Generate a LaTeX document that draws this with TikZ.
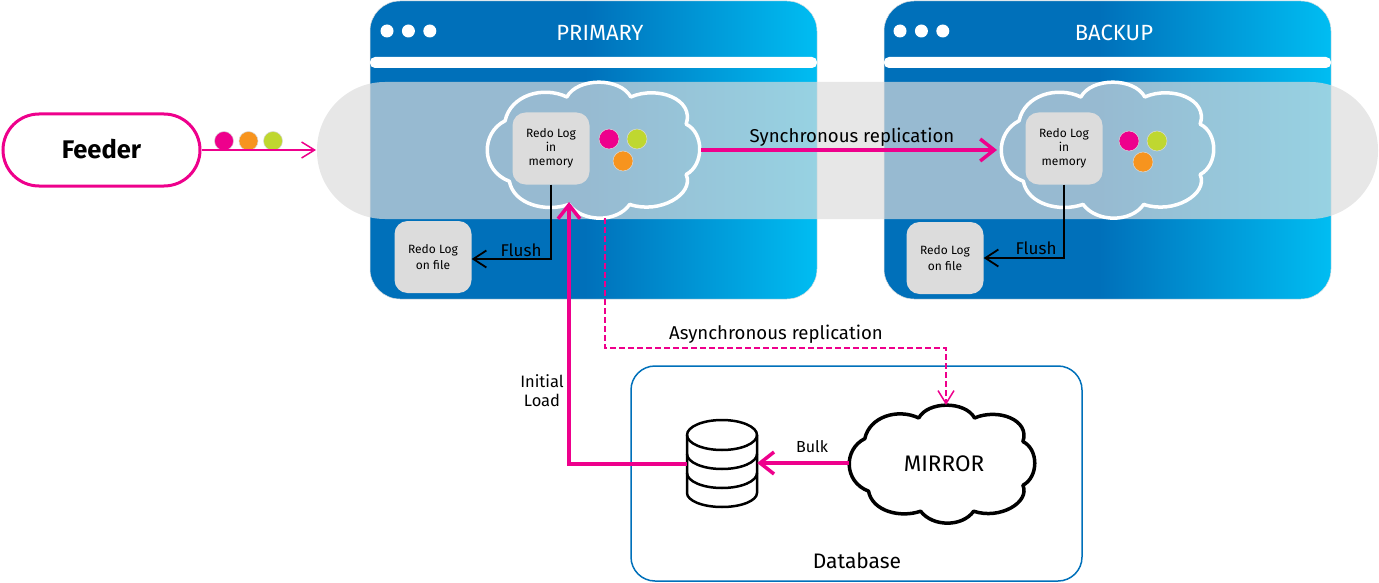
\documentclass[tikz,border=0pt]{standalone}
\usepackage{fontspec}
\setmainfont{Fira Sans}
\usepackage{xcolor}
\usetikzlibrary{positioning,arrows.meta}
\definecolor{panelblue}{HTML}{0070BA}
\definecolor{panelcyan}{HTML}{00BDF2}
\definecolor{feedpink}{HTML}{EE008C}
\definecolor{feedorange}{HTML}{F7941E}
\definecolor{feedgreen}{HTML}{BFD730}
\definecolor{boxgrey}{HTML}{DCDCDC}
\pgfdeclarehorizontalshading{panelshade}{100bp}{color(0bp)=(panelblue); color(49bp)=(panelblue); color(75bp)=(panelcyan); color(100bp)=(panelcyan)}
\tikzset{
  panelbox/.style={shading=panelshade,rounded corners=30pt,minimum width=447pt,minimum height=298pt,draw=black!12,line width=.5pt},
  panelbar/.style={fill=white,rounded corners=5pt,minimum width=447pt,minimum height=11pt,inner sep=0pt},
  ball/.style={circle,fill=#1,draw=black!15,line width=.5pt,minimum size=20pt,inner sep=0pt},
  whitedot/.style={circle,fill=white,minimum size=13pt,inner sep=0pt},
  logbox/.style={fill=boxgrey,rounded corners=13pt,minimum width=77pt,minimum height=72pt,inner sep=0pt,align=center,font=\fontsize{12}{14.5}\selectfont},
  lobes/.pic={
    \draw[pic actions,line join=round] (-25,-78) .. controls (-15,-107) and (25,-107) .. (35,-78)
      .. controls (60,-95) and (95,-75) .. (87,-38)
      .. controls (104,-25) and (104,22) .. (87,36)
      .. controls (95,65) and (62,95) .. (34,80)
      .. controls (22,107) and (-10,107) .. (-23,80)
      .. controls (-45,92) and (-75,80) .. (-79,46)
      .. controls (-106,30) and (-106,-25) .. (-83,-43)
      .. controls (-78,-80) and (-48,-95) .. cycle;
  },
  cloudspot/.style={minimum width=213pt,minimum height=136pt,inner sep=0pt},
  pinkbold/.style={draw=feedpink,line width=4pt,-{Straight Barb[length=14pt,width=22pt,line width=3.5pt]}},
  pinkthin/.style={draw=feedpink,line width=1.5pt,-{Straight Barb[length=13pt,width=16pt,line width=1.5pt]}},
  flushline/.style={draw=black,line width=2pt,-{Straight Barb[length=13pt,width=17pt,line width=1.8pt]}},
  label/.style={font=\fontsize{#1}{#1}\selectfont,text=black},
}

\begin{document}
\begin{tikzpicture}[x=1pt,y=-1pt]
\useasboundingbox (0,0) rectangle (1379,583);

\foreach \name/\cx/\title/\dotx in {primary/593.5/PRIMARY/387,backup/1107.5/BACKUP/900}{
  \node[panelbox] (\name) at (\cx,150) {};
  \node[panelbar] (\name bar) at (\cx,62.5) {};
  \node[label=22,text=white] (\name title) at (\cx+6.5,33) {\title};
  \node[whitedot] (\name a) at (\dotx,31) {};
  \node[whitedot,right=8pt of \name a] (\name b) {};
  \node[whitedot,right=8pt of \name b] (\name c) {};
}

\node[fill=boxgrey,fill opacity=.69,rounded corners=68pt,minimum width=1061pt,minimum height=137pt] (band) at (847.5,150.5) {};

\node[cloudspot] (primarycloud) at (593.5,150) {};
\node[cloudspot] (backupcloud) at (1107.5,150) {};
\pic[draw=white,line width=3.5pt,xscale=1.065,yscale=.68] at (primarycloud) {lobes};
\pic[draw=white,line width=3.5pt,xscale=1.065,yscale=.68] at (backupcloud) {lobes};

\node[logbox] (primarymem) at (551,148.5) {\raisebox{-1pt}{Redo Log}\\in\\memory};
\node[logbox] (primaryfile) at (433,257) {\raisebox{1pt}{Redo Log}\\on file};
\node[logbox] (backupmem) at (1064,148.5) {\raisebox{-1pt}{Redo Log}\\in\\memory};
\node[logbox] (backupfile) at (945,258) {\raisebox{1pt}{Redo Log}\\on file};

\node[ball=feedpink] (p1) at (609,139) {};
\node[ball=feedgreen] (p2) at (637,139) {};
\node[ball=feedorange] (p3) at (623,161) {};
\node[ball=feedpink] (b1) at (1129,141) {};
\node[ball=feedgreen] (b2) at (1157,141) {};
\node[ball=feedorange] (b3) at (1143,162) {};

\node[draw=feedpink,line width=3pt,fill=white,rounded corners=36pt,minimum width=197pt,minimum height=72pt,font=\fontsize{25.5}{25.5}\selectfont\bfseries] (feeder) at (101.5,150) {\raisebox{2pt}{Feeder}};
\node[ball=feedpink,minimum size=19pt] (f1) at (224,141) {};
\node[ball=feedorange,minimum size=19pt,right=5pt of f1] (f2) {};
\node[ball=feedgreen,minimum size=19pt,right=5pt of f2] (f3) {};

\node[draw=panelblue,line width=1.5pt,rounded corners=24pt,minimum width=451pt,minimum height=215pt] (dbframe) at (856.5,473.5) {};
\node[minimum width=186pt,minimum height=118pt,inner sep=0pt,label=22.5] (mirror) at (942,464) {\hspace{4pt}MIRROR};
\pic[draw=black,line width=3.5pt,xscale=.93,yscale=.59] at (mirror) {lobes};
\node[minimum width=70pt,minimum height=86pt,inner sep=0pt] (store) at (722,464) {};
\draw[line width=2.5pt,fill=white] (687,435) arc[start angle=180,end angle=360,x radius=35,y radius=15]
  -- (757,493) arc[start angle=0,end angle=180,x radius=35,y radius=14] -- cycle;
\foreach \yy in {435,454,473}
  \draw[line width=2.5pt] (687,\yy) arc[start angle=180,end angle=0,x radius=35,y radius=15];

\coordinate (bandin) at (316,150);
\coordinate (initend) at (569,202);
\coordinate (syncstart) at (701,150);
\coordinate (syncend) at (997,150);
\coordinate (asyncstart) at (605,218);
\coordinate (asyncend) at (946,405);

\draw[pinkthin] (feeder.east) -- (bandin);
\draw[pinkbold] (syncstart) -- (syncend);
\draw[pinkbold] (store.west) -| (initend);
\draw[pinkbold] ([yshift=1pt]mirror.west) -- ([yshift=1pt]store.east);
\draw[pinkthin,dashed,dash pattern=on 6pt off 3pt] (asyncstart) |- (946,348) -- (asyncend);
\draw[flushline] (primarymem.south) |- ([yshift=-2pt]primaryfile.east);
\draw[flushline] (backupmem.south) |- (backupfile.east);

\node[label=18.6] (synclabel) at (852,137) {Synchronous replication};
\node[label=18.6] (asynclabel) at (776,334) {Asynchronous replication};
\node[align=center,font=\fontsize{16.5}{19}\selectfont] (initlabel) at (542,391) {Initial\\Load};
\node[label=16] (bulklabel) at (812,447) {Bulk};
\node[label=17] (flushp) at (521,250) {Flush};
\node[label=17] (flushb) at (1036,248) {Flush};
\node[label=21] (dblabel) at (857,561) {Database};

\end{tikzpicture}
\end{document}
